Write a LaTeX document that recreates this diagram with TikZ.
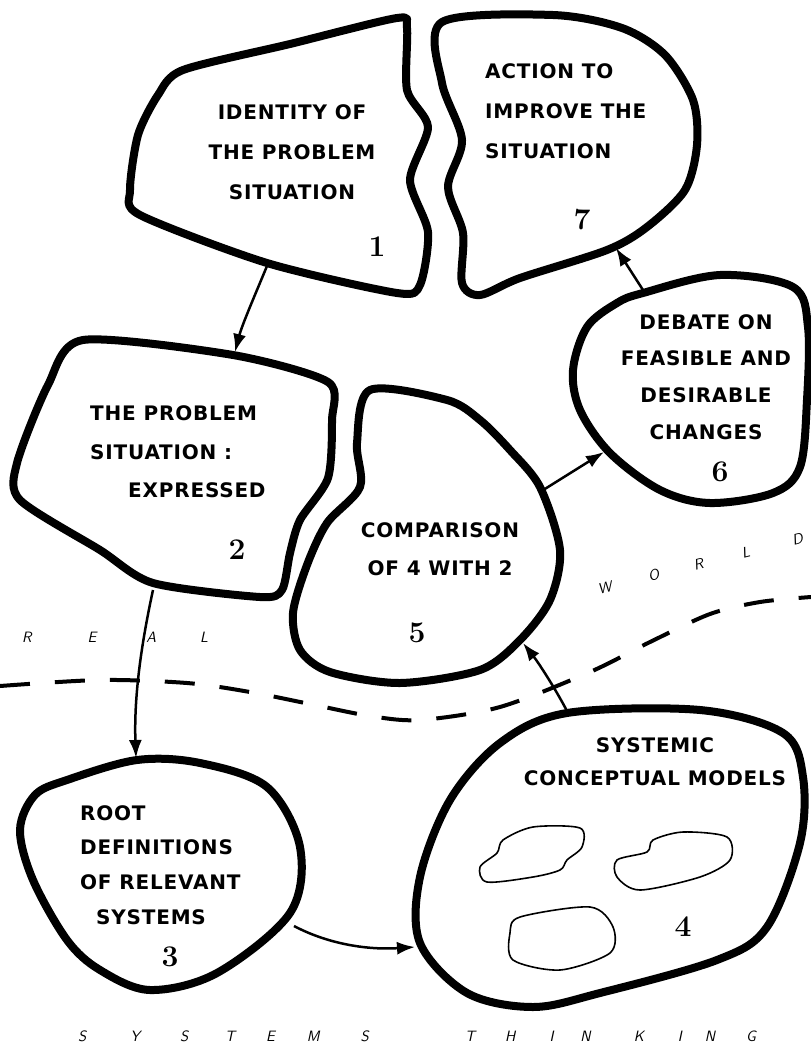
\documentclass[tikz,border=0pt]{standalone}
\usepackage{fontspec}
\usepackage{tikz}
\usetikzlibrary{arrows.meta}
\newfontfamily\handfont[LetterSpace=4]{DejaVu Sans}
\newcommand{\lgap}[1]{\hspace{#1}}

\begin{document}
\begin{tikzpicture}[x=1pt, y=-1pt,
    blob/.style={line width=8pt, line join=round},
    model/.style={line width=1.6pt, line join=round},
    lbl/.style={font=\handfont\bfseries\fontsize{20}{#1}\selectfont, inner sep=0pt},
    lbl/.default=40,
    num/.style={font=\bfseries\fontsize{30}{30}\selectfont, inner sep=0pt},
    world/.style={font=\sffamily\itshape\fontsize{15}{15}\selectfont, inner sep=0pt},
    flow/.style={line width=2.5pt, -{Latex[length=18pt,width=13pt]}}]

  \useasboundingbox (0,0) rectangle (811,1053);

  % Blob 1 - identify the problem situation
  \draw[blob] plot[smooth cycle, tension=0.45] coordinates {
    (183,70) (290,44) (397,18) (407,28) (407,90) (428,127) (410,180)
    (428,232) (420,285) (397,293) (267,263) (140,215) (130,190)
    (138,135) (158,95)};
  \node[lbl, align=center] (t1) at (292,152) {IDENTITY OF\\THE PROBLEM\\SITUATION};
  \node[num] (n1) at (377,247) {1};

  % Blob 7 - action
  \draw[blob] plot[smooth cycle, tension=0.5] coordinates {
    (442,22) (553,15) (622,28) (665,55) (693,100) (697,145) (685,190)
    (647,227) (607,250) (520,278) (480,295) (462,283) (463,233)
    (448,187) (462,140) (442,83)};
  \node[lbl, align=left, anchor=west] (t7) at (485,111) {ACTION TO\\IMPROVE THE\\SITUATION};
  \node[num] (n7) at (582,220) {7};

  % Blob 2 - problem situation expressed
  \draw[blob] plot[smooth cycle, tension=0.45] coordinates {
    (83,340) (233,355) (328,382) (332,420) (328,478) (300,520)
    (290,553) (282,590) (260,597) (153,583) (100,550) (20,500)
    (17,463) (48,385)};
  \node[lbl=38.5, align=left, anchor=west] (t2) at (90,452) {THE PROBLEM\\SITUATION :\\\lgap{38pt}EXPRESSED};
  \node[num] (n2) at (237,550) {2};

  % Blob 5 - comparison
  \draw[blob] plot[smooth cycle, tension=0.5] coordinates {
    (370,390) (447,400) (480,420) (510,450) (540,487) (560,550)
    (550,600) (520,640) (480,670) (400,683) (330,672) (300,650)
    (293,613) (307,565) (327,523) (360,487) (357,443)};
  \node[lbl=38, align=center] (t5) at (440,549) {COMPARISON\\OF 4 WITH 2};
  \node[num] (n5) at (417,633) {5};

  % Blob 6 - debate
  \draw[blob] plot[smooth cycle, tension=0.55] coordinates {
    (643,293) (720,275) (793,287) (808,327) (807,400) (800,467)
    (773,493) (710,503) (660,490) (610,453) (580,410) (573,370)
    (587,327) (617,303)};
  \node[lbl=36.7, align=center] (t6) at (706,377) {DEBATE ON\\FEASIBLE AND\\DESIRABLE\\CHANGES};
  \node[num] (n6) at (720,472) {6};

  % Blob 3 - root definitions
  \draw[blob] plot[smooth cycle, tension=0.55] coordinates {
    (137,760) (200,763) (267,787) (300,847) (290,913) (217,973)
    (150,990) (100,970) (67,940) (33,880) (20,830) (35,795) (67,780)};
  \node[lbl=34.7, align=left, anchor=west] (t3) at (80,865) {ROOT\\DEFINITIONS\\OF RELEVANT\\\lgap{16pt}SYSTEMS};
  \node[num] (n3) at (170,957) {3};

  % Blob 4 - conceptual models, with three small models inside
  \draw[blob] plot[smooth cycle, tension=0.55] coordinates {
    (567,713) (700,710) (783,733) (803,777) (800,843) (767,927)
    (717,960) (600,993) (533,1007) (467,993) (420,943) (420,877)
    (450,800) (500,743)};
  \draw[model] plot[smooth cycle, tension=0.5] coordinates {
    (503,840) (533,827) (580,828) (582,847) (567,860) (560,870)
    (533,877) (487,882) (480,867) (497,853)};
  \draw[model] plot[smooth cycle, tension=0.5] coordinates {
    (653,840) (683,832) (727,837) (730,860) (700,877) (640,890)
    (617,877) (617,860) (647,852)};
  \draw[model] plot[smooth cycle, tension=0.5] coordinates {
    (520,917) (590,907) (613,927) (610,953) (560,970) (513,960) (510,933)};
  \node[lbl=33, align=center] (t4) at (655,762) {SYSTEMIC\\CONCEPTUAL MODELS};
  \node[num] (n4) at (683,927) {4};

  % Line between real world and systems thinking
  \draw[line width=4pt, dash pattern=on 30pt off 25pt] plot[smooth, tension=0.5] coordinates {
    (0,686) (100,680) (187,683) (250,692) (310,704) (370,716) (420,720)
    (500,707) (590,672) (650,642) (710,614) (760,602) (811,597)};

  % Spaced words
  \node[world, anchor=west] (real) at (22,637) {R\lgap{56pt}E\lgap{50pt}A\lgap{44pt}L};
  \node[world, anchor=west, rotate=14] (worldw) at (598,589) {W\lgap{38pt}O\lgap{36pt}R\lgap{40pt}L\lgap{44pt}D};
  \node[world, anchor=west] (sys) at (78,1036) {S\lgap{44pt}Y\lgap{40pt}S\lgap{37pt}T\lgap{31pt}E\lgap{32pt}M\lgap{41pt}S};
  \node[world, anchor=west] (think) at (465,1036) {T\lgap{30pt}H\lgap{34pt}I\lgap{27pt}N\lgap{43pt}K\lgap{34pt}I\lgap{23pt}N\lgap{31pt}G};

  % Arrow ends
  \coordinate (o1) at (267,266);
  \coordinate (i2) at (235,352);
  \coordinate (o2) at (153,590);
  \coordinate (i3) at (136,758);
  \coordinate (o3) at (294,926);
  \coordinate (i4) at (415,947);
  \coordinate (o4) at (567,711);
  \coordinate (i5) at (523,643);
  \coordinate (o5) at (540,492);
  \coordinate (i6) at (604,452);
  \coordinate (o6) at (643,290);
  \coordinate (i7) at (616,248);

  % Arrows
  \draw[flow] (o1) .. controls (255,295) and (242,325) .. (i2);
  \draw[flow] (o2) .. controls (140,650) and (134,700) .. (i3);
  \draw[flow] (o3) .. controls (330,945) and (370,950) .. (i4);
  \draw[flow] (o4) .. controls (555,688) and (538,662) .. (i5);
  \draw[flow] (o5) -- (i6);
  \draw[flow] (o6) -- (i7);

\end{tikzpicture}
\end{document}
